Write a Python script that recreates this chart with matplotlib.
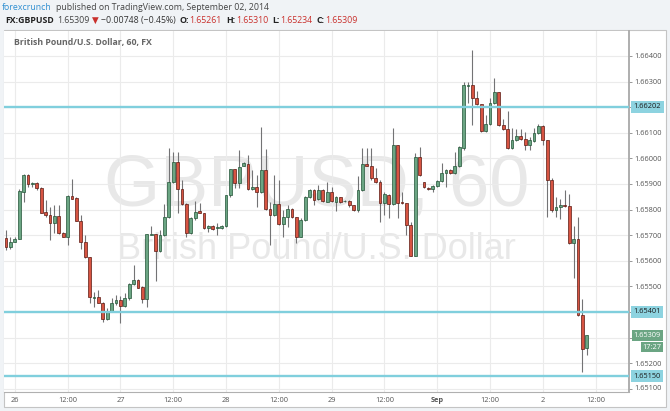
import matplotlib
matplotlib.use("Agg")
import matplotlib.pyplot as plt
from matplotlib.patches import Rectangle
import numpy as np

plt.rcParams['font.family'] = ['Open Sans', 'DejaVu Sans']

# ---------------- data (GBPUSD, 60 min) ----------------
opens = [1.65688, 1.65655, 1.65675, 1.65685, 1.65870, 1.65935, 1.65899, 1.65903, 1.65886, 1.65791,
         1.65778, 1.65746, 1.65775, 1.65707, 1.65694, 1.65852, 1.65845, 1.65757, 1.65675, 1.65614,
         1.65456, 1.65457, 1.65437, 1.65373, 1.65405, 1.65434, 1.65447, 1.65425, 1.65456, 1.65508,
         1.65525, 1.65498, 1.65450, 1.65702, 1.65703, 1.65637, 1.65700, 1.65770, 1.65907, 1.65985,
         1.65879, 1.65822, 1.65707, 1.65766, 1.65795, 1.65786, 1.65727, 1.65735, 1.65727, 1.65728,
         1.65736, 1.65857, 1.65957, 1.65905, 1.65972, 1.65977, 1.65879, 1.65887, 1.65868, 1.65955,
         1.65801, 1.65779, 1.65821, 1.65743, 1.65773, 1.65801, 1.65770, 1.65694, 1.65759, 1.65848,
         1.65876, 1.65840, 1.65875, 1.65831, 1.65870, 1.65831, 1.65848, 1.65832, 1.65835, 1.65818,
         1.65798, 1.65876, 1.65978, 1.65970, 1.65922, 1.65909, 1.65827, 1.65857, 1.65821, 1.66052,
         1.65830, 1.65825, 1.65740, 1.65620, 1.66007, 1.65907, 1.65886, 1.65879, 1.65894, 1.65913,
         1.65942, 1.65955, 1.65942, 1.65970, 1.66039, 1.66284, 1.66287, 1.66235, 1.66211, 1.66107,
         1.66133, 1.66215, 1.66258, 1.66131, 1.66115, 1.66039, 1.66072, 1.66087, 1.66074, 1.66052,
         1.66069, 1.66098, 1.66127, 1.66072, 1.65916, 1.65798, 1.65809, 1.65817, 1.65814, 1.65668,
         1.65685, 1.65388, 1.65261]
highs = [1.65720, 1.65692, 1.65692, 1.65879, 1.65939, 1.65938, 1.65909, 1.65909, 1.65888, 1.65838,
         1.65812, 1.65818, 1.65818, 1.65714, 1.65857, 1.65918, 1.65850, 1.65779, 1.65701, 1.65616,
         1.65480, 1.65486, 1.65440, 1.65414, 1.65453, 1.65467, 1.65463, 1.65476, 1.65512, 1.65584,
         1.65528, 1.65502, 1.65705, 1.65736, 1.65706, 1.65720, 1.65821, 1.66039, 1.66026, 1.66024,
         1.65916, 1.65824, 1.65770, 1.65835, 1.65827, 1.65788, 1.65740, 1.65740, 1.65746, 1.65740,
         1.65857, 1.65958, 1.65958, 1.66033, 1.65987, 1.66013, 1.65955, 1.65935, 1.66121, 1.66035,
         1.65831, 1.65935, 1.65916, 1.65798, 1.65818, 1.65805, 1.65773, 1.65766, 1.65853, 1.65879,
         1.65879, 1.65896, 1.65879, 1.65909, 1.65890, 1.65853, 1.65849, 1.65838, 1.65838, 1.65818,
         1.65931, 1.66040, 1.66039, 1.66039, 1.65961, 1.65916, 1.65870, 1.65860, 1.66117, 1.66054,
         1.65870, 1.65827, 1.65753, 1.66020, 1.66043, 1.65909, 1.65890, 1.65896, 1.65916, 1.65981,
         1.65957, 1.65957, 1.66026, 1.66048, 1.66300, 1.66300, 1.66423, 1.66265, 1.66211, 1.66170,
         1.66235, 1.66313, 1.66261, 1.66154, 1.66186, 1.66117, 1.66114, 1.66114, 1.66104, 1.66085,
         1.66117, 1.66134, 1.66130, 1.66072, 1.65922, 1.65848, 1.65840, 1.65877, 1.65861, 1.65736,
         1.65770, 1.65450, 1.65310]
lows = [1.65642, 1.65645, 1.65674, 1.65684, 1.65831, 1.65887, 1.65889, 1.65877, 1.65786, 1.65772,
        1.65681, 1.65707, 1.65705, 1.65692, 1.65662, 1.65842, 1.65754, 1.65645, 1.65610, 1.65437,
        1.65421, 1.65434, 1.65362, 1.65369, 1.65401, 1.65427, 1.65358, 1.65421, 1.65447, 1.65505,
        1.65492, 1.65437, 1.65418, 1.65701, 1.65522, 1.65636, 1.65697, 1.65766, 1.65905, 1.65786,
        1.65818, 1.65692, 1.65705, 1.65759, 1.65786, 1.65724, 1.65714, 1.65720, 1.65701, 1.65726,
        1.65733, 1.65851, 1.65883, 1.65883, 1.65970, 1.65876, 1.65876, 1.65809, 1.65864, 1.65798,
        1.65662, 1.65775, 1.65740, 1.65692, 1.65733, 1.65766, 1.65671, 1.65692, 1.65757, 1.65844,
        1.65818, 1.65838, 1.65829, 1.65829, 1.65831, 1.65796, 1.65827, 1.65830, 1.65811, 1.65796,
        1.65792, 1.65874, 1.65970, 1.65916, 1.65905, 1.65753, 1.65779, 1.65766, 1.65818, 1.65766,
        1.65822, 1.65701, 1.65619, 1.65619, 1.65931, 1.65883, 1.65877, 1.65870, 1.65890, 1.65909,
        1.65890, 1.65939, 1.65939, 1.65968, 1.66033, 1.66215, 1.66131, 1.66209, 1.66104, 1.66104,
        1.66131, 1.66212, 1.66128, 1.66111, 1.66035, 1.66037, 1.66069, 1.66072, 1.66033, 1.66033,
        1.66065, 1.66095, 1.66052, 1.65770, 1.65792, 1.65770, 1.65762, 1.65812, 1.65666, 1.65532,
        1.65384, 1.65167, 1.65234]
closes = [1.65655, 1.65675, 1.65685, 1.65874, 1.65935, 1.65899, 1.65903, 1.65886, 1.65788, 1.65778,
          1.65746, 1.65775, 1.65707, 1.65694, 1.65853, 1.65843, 1.65757, 1.65675, 1.65614, 1.65457,
          1.65460, 1.65437, 1.65373, 1.65405, 1.65434, 1.65447, 1.65425, 1.65456, 1.65508, 1.65525,
          1.65495, 1.65450, 1.65703, 1.65705, 1.65637, 1.65700, 1.65770, 1.65907, 1.65985, 1.65879,
          1.65822, 1.65707, 1.65766, 1.65792, 1.65786, 1.65727, 1.65736, 1.65724, 1.65731, 1.65737,
          1.65857, 1.65957, 1.65905, 1.65968, 1.65981, 1.65879, 1.65887, 1.65868, 1.65955, 1.65801,
          1.65779, 1.65821, 1.65743, 1.65773, 1.65801, 1.65770, 1.65694, 1.65759, 1.65848, 1.65876,
          1.65838, 1.65875, 1.65834, 1.65870, 1.65835, 1.65851, 1.65831, 1.65835, 1.65818, 1.65798,
          1.65876, 1.65980, 1.65970, 1.65922, 1.65909, 1.65827, 1.65860, 1.65821, 1.66052, 1.65827,
          1.65825, 1.65740, 1.65620, 1.66007, 1.65934, 1.65887, 1.65879, 1.65894, 1.65913, 1.65942,
          1.65955, 1.65942, 1.65970, 1.66043, 1.66287, 1.66287, 1.66235, 1.66211, 1.66107, 1.66133,
          1.66215, 1.66258, 1.66131, 1.66115, 1.66039, 1.66072, 1.66087, 1.66074, 1.66052, 1.66072,
          1.66098, 1.66127, 1.66072, 1.65916, 1.65798, 1.65812, 1.65818, 1.65814, 1.65668, 1.65685,
          1.65388, 1.65256, 1.65309]

x_tick_labels = ["26", "12:00", "27", "12:00", "28", "12:00", "29", "12:00", "Sep", "12:00", "2", "12:00"]
first_tick_bar = 2      # Aug 26 00:00 is the third hourly bar
bars_per_tick = 12
y_tick_values = [1.651, 1.652, 1.653, 1.654, 1.655, 1.656, 1.657, 1.658, 1.659, 1.660, 1.661, 1.662, 1.663, 1.664]
levels = [1.66202, 1.65401, 1.65150]
last_price = 1.65309
countdown = "17:27"

# ---------------- styling ----------------
W, H = 670, 411
UP, DOWN = '#6ba583', '#d75442'
UP_EDGE, DOWN_EDGE = '#225437', '#5b1a13'
WICK = '#737375'
LEVEL = '#80cfdd'
LEVEL_BOX = '#8dd3e0'
RED_TXT = '#c9302c'

fig = plt.figure(figsize=(W / 100, H / 100), dpi=100)
fig.patch.set_facecolor('#f0f3f6')

bg = fig.add_axes([0, 0, 1, 1])
bg.set_xlim(0, W)
bg.set_ylim(H, 0)
bg.axis('off')
bg.add_patch(Rectangle((4, 30.5), 662, 376, facecolor='white', edgecolor='#c4c4c4', lw=0.8))

# header lines
def chain(parts, x, y, size):
    prev = None
    for s, color, weight, gap in parts:
        if prev is None:
            prev = bg.text(x, y, s, color=color, fontweight=weight, fontsize=size, va='center', ha='left')
        else:
            prev = bg.annotate(s, xy=(1, 0.5), xycoords=prev, xytext=(gap, 0), textcoords='offset points',
                               color=color, fontweight=weight, fontsize=size, va='center', ha='left')

chain([("forexcrunch", '#2f8fd1', 'normal', 0),
       ("published on TradingView.com, September 02, 2014", '#444444', 'normal', 3)], 2, 7.5, 6.3)
chain([("FX:GBPUSD", '#222222', 'bold', 0),
       ("1.65309", '#444444', 'normal', 2.5),
       ("\u25bc", RED_TXT, 'normal', 1.5),
       ("\u22120.00748 (\u22120.45%)", '#333333', 'normal', 1.5),
       ("O:", '#222222', 'bold', 3), ("1.65261", RED_TXT, 'normal', 0.5),
       ("H:", '#222222', 'bold', 3), ("1.65310", RED_TXT, 'normal', 0.5),
       ("L:", '#222222', 'bold', 3), ("1.65234", RED_TXT, 'normal', 0.5),
       ("C:", '#222222', 'bold', 3), ("1.65309", RED_TXT, 'normal', 0.5)], 5, 20.5, 6.3)

# ---------------- main price pane ----------------
top_px, bot_px, left_px, right_px = 30.7, 391.7, 4, 629
ax = fig.add_axes([left_px / W, (H - bot_px) / H, (right_px - left_px) / W, (bot_px - top_px) / H])
ax.set_facecolor('white')
n = len(opens)
x = np.arange(n)
ax.set_xlim(-0.45, 141.6)
ax.set_ylim(1.650887, 1.664988)

for s in ['top', 'left']:
    ax.spines[s].set_visible(False)
ax.spines['right'].set_color('#a8a8a8')
ax.spines['right'].set_linewidth(1.3)
ax.spines['bottom'].set_color('#b0b0b0')
ax.spines['bottom'].set_linewidth(0.8)

ax.set_axisbelow(True)
ax.grid(True, color='#ebebeb', lw=0.8)

# y tick labels: those hidden behind the price/level tags in the original are left blank
boxed = levels + [last_price]
ytl = []
for i, v in enumerate(y_tick_values):
    hidden = (i == 0) or any(abs(v - b) < 0.0003 for b in boxed)
    ytl.append('' if hidden else f"{v:.5f}")
ax.yaxis.tick_right()
ax.set_yticks(y_tick_values)
ax.set_yticklabels(ytl)
ax.tick_params(axis='y', length=2.5, width=0.6, color='#888888', labelsize=5.3, labelcolor='#555555', pad=1.2)
tick_pos = [first_tick_bar + bars_per_tick * i for i in range(len(x_tick_labels))]
ax.set_xticks(tick_pos)
ax.set_xticklabels(x_tick_labels)
ax.tick_params(axis='x', length=0, labelsize=5.3, labelcolor='#555555', pad=3.5)
for lbl in ax.get_xticklabels():
    if lbl.get_text() == 'Sep':
        lbl.set_fontweight('bold')

# partially hidden lowest y label
clip_rect = Rectangle((right_px, top_px), 40, bot_px - top_px, transform=bg.transData)
t = ax.text(1.0, y_tick_values[0], f"{y_tick_values[0]:.5f}", transform=ax.get_yaxis_transform(),
            fontsize=5.3, color='#555555', va='center', ha='left', clip_on=True)
t.set_x(1.0 + 5.5 / (right_px - left_px))
t.set_clip_path(clip_rect)

# watermark
ax.text(0.5, 0.567, "GBPUSD, 60", transform=ax.transAxes, ha='center', va='center',
        fontsize=52, color='#e8e8e8', family='Liberation Sans', zorder=0)
ax.text(0.5, 0.393, "British Pound/U.S. Dollar", transform=ax.transAxes, ha='center', va='center',
        fontsize=26, color='#e8e8e8', family='Liberation Sans', zorder=0)
ax.text(11 / (right_px - left_px) - 0.0013, 1 - 12 / (bot_px - top_px), "British Pound/U.S. Dollar, 60, FX",
        transform=ax.transAxes, ha='left', va='center', fontsize=6.3, fontweight='bold', color='#666666', zorder=5)

# candles
o = np.array(opens); c = np.array(closes); hi = np.array(highs); lo = np.array(lows)
up = c >= o
ax.vlines(x, lo, hi, color=WICK, lw=0.8, zorder=2)
body_bottom = np.minimum(o, c)
body_h = np.maximum(np.abs(c - o), 0.00002)
ax.bar(x, body_h, bottom=body_bottom, width=0.66,
       color=np.where(up, UP, DOWN), edgecolor=np.where(up, UP_EDGE, DOWN_EDGE), linewidth=0.5, zorder=3)

# horizontal levels
lx = 1.0 + 4.5 / (right_px - left_px)
for v in levels:
    ax.axhline(v, color=LEVEL, lw=1.7, zorder=4)
    ax.text(lx, v, f"{v:.5f}", transform=ax.get_yaxis_transform(), ha='left', va='center',
            fontsize=5.3, color='#1a1a1a', clip_on=False, zorder=10,
            bbox=dict(boxstyle='square,pad=0.35', fc=LEVEL_BOX, ec='none'))

# last price + countdown
ax.text(lx, last_price, f"{last_price:.5f}", transform=ax.get_yaxis_transform(), ha='left', va='center',
        fontsize=5.3, color='white', clip_on=False, zorder=10,
        bbox=dict(boxstyle='square,pad=0.25', fc=UP, ec='none'))
ax.annotate(countdown, xy=(1.0, last_price), xycoords=ax.get_yaxis_transform(),
            xytext=(23.5, -8.6), textcoords='offset points', ha='right', va='center',
            fontsize=5.3, color='white', zorder=10, annotation_clip=False,
            bbox=dict(boxstyle='square,pad=0.2', fc=UP, ec='none'))

fig.savefig('out.png', dpi=100, facecolor=fig.get_facecolor())
